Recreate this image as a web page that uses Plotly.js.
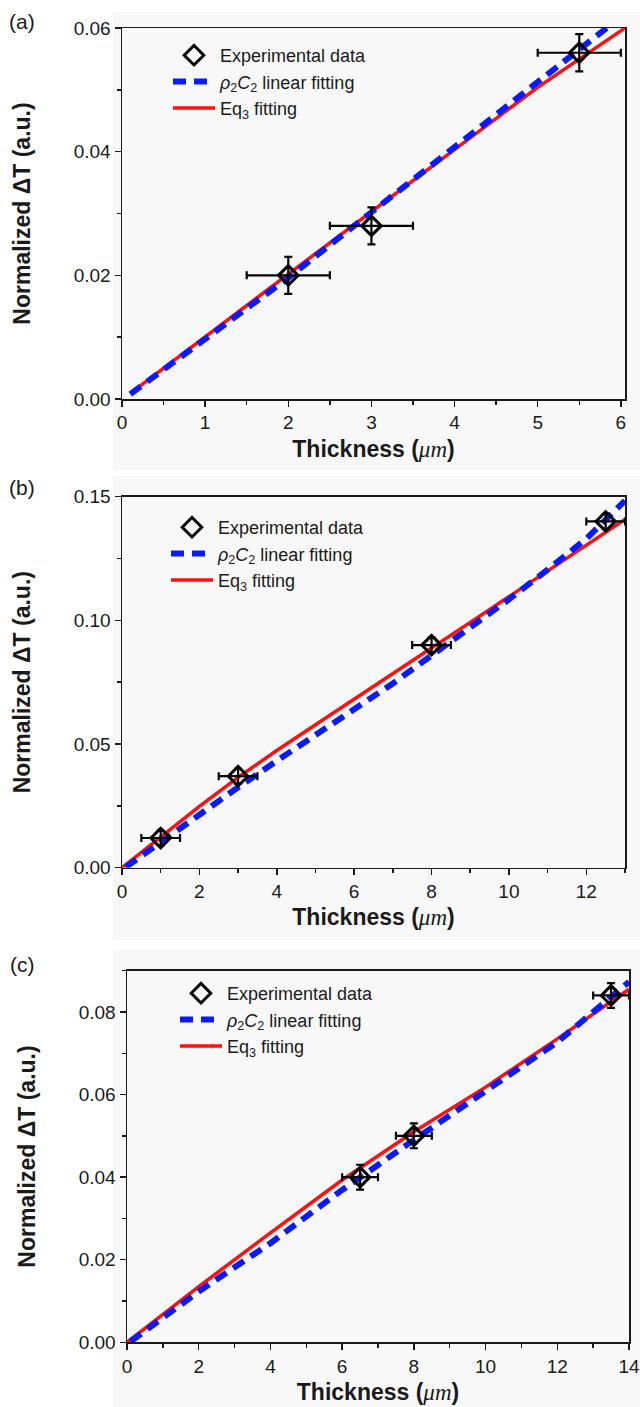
<!DOCTYPE html>
<html>
<head>
<meta charset="utf-8">
<script src="https://cdn.plot.ly/plotly-3.0.1.min.js"></script>
<style>html,body{margin:0;padding:0;background:#fff;}#chart{width:640px;height:1407px;}</style>
</head>
<body>
<div id="chart"></div>
<script>
// ---------- Panel (a) ----------
const thickA = [2, 3, 5.5];
const dTA = [0.020, 0.028, 0.056];
const xErrA = [0.5, 0.5, 0.5];
const yErrA = [0.003, 0.003, 0.003];
const linFitXA = [0.1, 1, 2, 3, 4, 5, 5.83];
const linFitYA = [0.0008, 0.0097, 0.0196, 0.0302, 0.0408, 0.0512, 0.0600];
const eqFitXA = [0.1, 1, 2, 3, 4, 5, 6.05];
const eqFitYA = [0.0009, 0.0101, 0.0202, 0.0303, 0.0404, 0.0504, 0.0600];

// ---------- Panel (b) ----------
const thickB = [1, 3, 8, 12.5];
const dTB = [0.012, 0.037, 0.090, 0.140];
const xErrB = [0.5, 0.5, 0.5, 0.5];
const yErrB = [0.003, 0.003, 0.003, 0.003];
const linFitXB = [0.1, 1, 2, 3, 4, 5, 6, 7, 8, 9, 10, 11, 12, 13];
const linFitYB = [0.0003, 0.0105, 0.0215, 0.0325, 0.0432, 0.0535, 0.0637, 0.0745, 0.0858, 0.0970, 0.1085, 0.1205, 0.1330, 0.1484];
const eqFitXB = [0, 1, 2, 3, 4, 5, 6, 7, 8, 9, 10, 11, 12, 13];
const eqFitYB = [0, 0.0125, 0.0248, 0.0365, 0.0474, 0.0578, 0.0680, 0.0784, 0.0888, 0.0992, 0.1096, 0.1200, 0.1304, 0.1408];

// ---------- Panel (c) ----------
const thickC = [6.5, 8, 13.5];
const dTC = [0.040, 0.050, 0.084];
const xErrC = [0.5, 0.5, 0.5];
const yErrC = [0.003, 0.003, 0.003];
const linFitXC = [0.1, 2, 4, 6, 8, 10, 12, 14];
const linFitYC = [0.0002, 0.0123, 0.0240, 0.0369, 0.0490, 0.0610, 0.0727, 0.0873];
const eqFitXC = [0, 2, 4, 6, 8, 10, 12, 14];
const eqFitYC = [0, 0.0135, 0.0265, 0.0393, 0.0510, 0.0618, 0.0735, 0.0855];

// labels
const legendNames = ['Experimental data', '<i>ρ</i><sub>2</sub><i>C</i><sub>2</sub> linear fitting', 'Eq<sub>3</sub> fitting'];
const panelLabels = ['(a)', '(b)', '(c)'];
const yTitle = 'Normalized ΔT (a.u.)';
const xTitle = "Thickness (<i><span style=\"font-family:'Liberation Serif',serif;font-weight:normal\">μm</span></i>)";

const W = 640, H = 1407;
const FONT = 'Liberation Sans, Arial, sans-serif';
const BLUE = '#0a1aff', RED = '#ff1010', INK = '#1a1a1a';

const panels = [
  {xs: thickA, ys: dTA, xe: xErrA, ye: yErrA, lx: linFitXA, ly: linFitYA, ex: eqFitXA, ey: eqFitYA,
   px: [122, 625], py: [28, 399], xr: [0, 6.05], yr: [0, 0.06], xd: 1, xm: 0.5, yd: 0.02, ym: 0.01,
   leg: [168, 37], lab: [22, 21], bg: [12, 470]},
  {xs: thickB, ys: dTB, xe: xErrB, ye: yErrB, lx: linFitXB, ly: linFitYB, ex: eqFitXB, ey: eqFitYB,
   px: [122, 625], py: [496.7, 867.7], xr: [0, 13], yr: [0, 0.15], xd: 2, xm: 1, yd: 0.05, ym: 0.025,
   leg: [166, 509], lab: [22, 487], bg: [476, 940]},
  {xs: thickC, ys: dTC, xe: xErrC, ye: yErrC, lx: linFitXC, ly: linFitYC, ex: eqFitXC, ey: eqFitYC,
   px: [127, 629], py: [970.7, 1342.3], xr: [0, 14], yr: [0, 0.09], xd: 2, xm: 1, yd: 0.02, ym: 0.01,
   leg: [175, 975], lab: [22, 964], bg: [950, 1407]}
];

const traces = [];
const layout = {
  width: W, height: H,
  margin: {l: 0, r: 0, t: 0, b: 0},
  paper_bgcolor: '#ffffff',
  plot_bgcolor: '#f9f9f9',
  font: {family: FONT, color: INK, size: 18},
  annotations: [],
  shapes: [],
  showlegend: true
};

panels.forEach((p, i) => {
  const n = i === 0 ? '' : String(i + 1);
  const xa = 'x' + n, ya = 'y' + n;
  const legName = i === 0 ? 'legend' : 'legend' + (i + 1);

  traces.push({
    x: p.ex, y: p.ey, xaxis: xa, yaxis: ya, type: 'scatter', mode: 'lines',
    name: legendNames[2], legend: legName, legendrank: 3,
    line: {color: RED, width: 3.5}
  });
  traces.push({
    x: p.lx, y: p.ly, xaxis: xa, yaxis: ya, type: 'scatter', mode: 'lines',
    name: legendNames[1], legend: legName, legendrank: 2,
    line: {color: BLUE, width: 6, dash: '13px,8px'}
  });
  traces.push({
    x: p.xs, y: p.ys, xaxis: xa, yaxis: ya, type: 'scatter', mode: 'markers',
    name: legendNames[0], legend: legName, legendrank: 1,
    marker: {symbol: 'diamond-open', size: 15, color: '#000', line: {width: 3, color: '#000'}},
    error_x: {type: 'data', array: p.xe, visible: true, color: '#000', thickness: 2.2, width: 4},
    error_y: {type: 'data', array: p.ye, visible: true, color: '#000', thickness: 2.2, width: 4}
  });

  const axCommon = {
    showline: true, mirror: true, linecolor: INK, linewidth: 1.5,
    ticks: 'outside', ticklen: 6, tickwidth: 1.5, tickcolor: INK,
    showgrid: false, zeroline: false, fixedrange: true,
    tickfont: {family: FONT, size: 19, color: INK}
  };
  layout['xaxis' + n] = Object.assign({}, axCommon, {
    domain: [p.px[0] / W, p.px[1] / W], anchor: ya, range: p.xr,
    tick0: 0, dtick: p.xd,
    minor: {ticks: 'outside', ticklen: 4, tickwidth: 1.5, tickcolor: INK, dtick: p.xm, tick0: 0},
    title: {text: xTitle, standoff: 8, font: {family: FONT, size: 23, color: INK, weight: 'bold'}}
  });
  layout['yaxis' + n] = Object.assign({}, axCommon, {
    domain: [1 - p.py[1] / H, 1 - p.py[0] / H], anchor: xa, range: p.yr,
    tick0: 0, dtick: p.yd, tickformat: '.2f',
    minor: {ticks: 'outside', ticklen: 4, tickwidth: 1.5, tickcolor: INK, dtick: p.ym, tick0: 0},
    title: {text: yTitle, standoff: 36, font: {family: FONT, size: 23, color: INK, weight: 'bold'}}
  });
  layout[legName] = {
    x: p.leg[0] / W, y: 1 - p.leg[1] / H, xanchor: 'left', yanchor: 'top',
    xref: 'paper', yref: 'paper',
    bgcolor: 'rgba(0,0,0,0)', borderwidth: 0,
    font: {family: FONT, size: 18, color: INK},
    itemwidth: 42, traceorder: 'normal'
  };
  layout.annotations.push({
    text: panelLabels[i], xref: 'paper', yref: 'paper',
    x: p.lab[0] / W, y: 1 - p.lab[1] / H, xanchor: 'center', yanchor: 'middle',
    showarrow: false, font: {family: FONT, size: 21, color: INK}
  });
  layout.shapes.push({
    type: 'rect', xref: 'paper', yref: 'paper', layer: 'below',
    x0: 113 / W, x1: 1, y0: 1 - p.bg[1] / H, y1: 1 - p.bg[0] / H,
    line: {width: 0}, fillcolor: '#f8f8f8'
  });
});

Plotly.newPlot('chart', traces, layout, {staticPlot: true, displayModeBar: false});
</script>
</body>
</html>
